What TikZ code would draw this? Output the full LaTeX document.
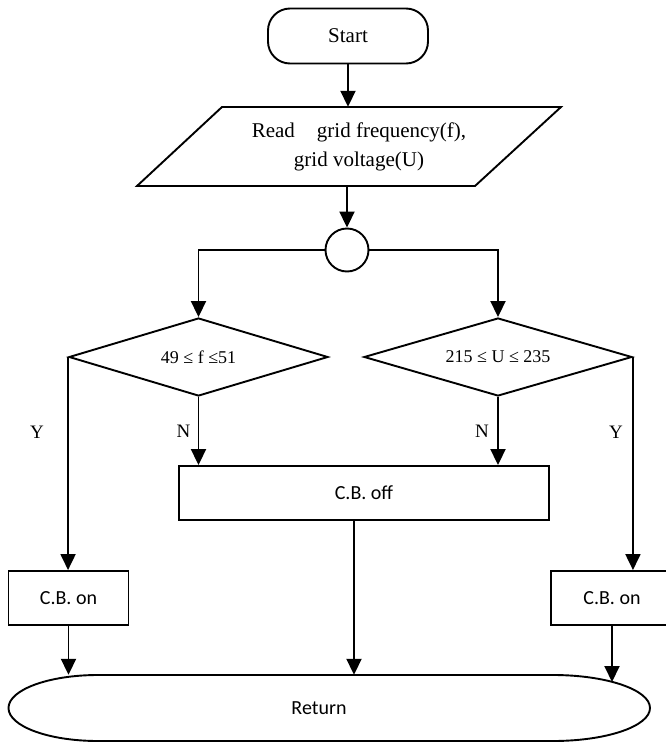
\documentclass[tikz,border=0pt]{standalone}
\usepackage{fontspec}
\setmainfont{Liberation Serif}
\newfontfamily\cbfont{Carlito}
\usetikzlibrary{arrows.meta,shapes.geometric}
\tikzset{
  line/.style={black, line width=1.9pt},
  arr/.style={line, -{Triangle[length=16pt,width=15pt]}},
  termbox/.style={draw, line width=1.9pt, rounded corners=22pt, minimum width=160pt, minimum height=55pt, font=\fontsize{21}{25}\selectfont},
  decbox/.style={draw, diamond, aspect=3.3, line width=1.9pt, minimum height=78pt, inner sep=0pt, font=\fontsize{18}{22}\selectfont},
  actbox/.style={draw, rectangle, line width=1.9pt, minimum height=54pt, font=\cbfont\fontsize{20}{24}\selectfont},
  yn/.style={font=\fontsize{19}{23}\selectfont}
}
\begin{document}
\begin{tikzpicture}[x=1pt,y=1pt]
\useasboundingbox (0,0) rectangle (666,-742);
\node[termbox] (start) at (348,-36) {Start};
\node[minimum height=79pt, align=center, font=\fontsize{21}{29}\selectfont] (read) at (359,-146.5) {Read\hspace{22pt}grid frequency(f),\\grid voltage(U)};
\draw[line] (222,-107) -- (561,-107) -- (475,-186) -- (137,-186) -- cycle;
\node[draw, circle, line width=1.9pt, minimum size=43pt, inner sep=0pt] (jn) at (347,-250) {};
\node[decbox, minimum width=259pt] (fchk) at (198.5,-357) {49 ≤ f ≤51};
\node[decbox, minimum width=268pt] (uchk) at (498,-357) {215 ≤ U ≤ 235};
\node[actbox, minimum width=370pt] (off) at (364,-493) {C.B. off};
\node[actbox, minimum width=120pt] (onf) at (68.5,-598) {C.B. on};
\node[actbox, minimum width=122pt] (onu) at (612,-598) {C.B. on};
\node[font=\cbfont\fontsize{20}{24}\selectfont, minimum height=66pt] (ret) at (319,-708) {Return};
\draw[line] (98,-675) -- (553,-675) arc[start angle=90, end angle=-90, x radius=97, y radius=33]
  -- (98,-741) arc[start angle=270, end angle=90, x radius=89.5, y radius=33] -- cycle;
\coordinate (retu) at (612,-682);

\draw[arr] (start.south) -- (start.south |- read.north);
\draw[arr] (jn.north |- read.south) -- (jn.north);
\draw[arr] (jn.west) -| (fchk.north);
\draw[arr] (jn.east) -| (uchk.north);
\draw[arr] (fchk.west) -- (fchk.west |- onf.north) node[yn, pos=.355, xshift=-31pt] {Y};
\draw[arr] (fchk.south) -- (fchk.south |- off.north) node[yn, midway, xshift=-15pt] {N};
\draw[arr] (uchk.south) -- (uchk.south |- off.north) node[yn, midway, xshift=-16pt] {N};
\draw[arr] (uchk.east) -- (uchk.east |- onu.north) node[yn, pos=.355, xshift=-17pt] {Y};
\draw[arr] (onf.south) -- (onf.south |- ret.north);
\draw[arr] ([xshift=-10pt]off.south) -- ([xshift=-10pt]off.south |- ret.north);
\draw[arr] (onu.south) -- (retu);
\end{tikzpicture}
\end{document}
